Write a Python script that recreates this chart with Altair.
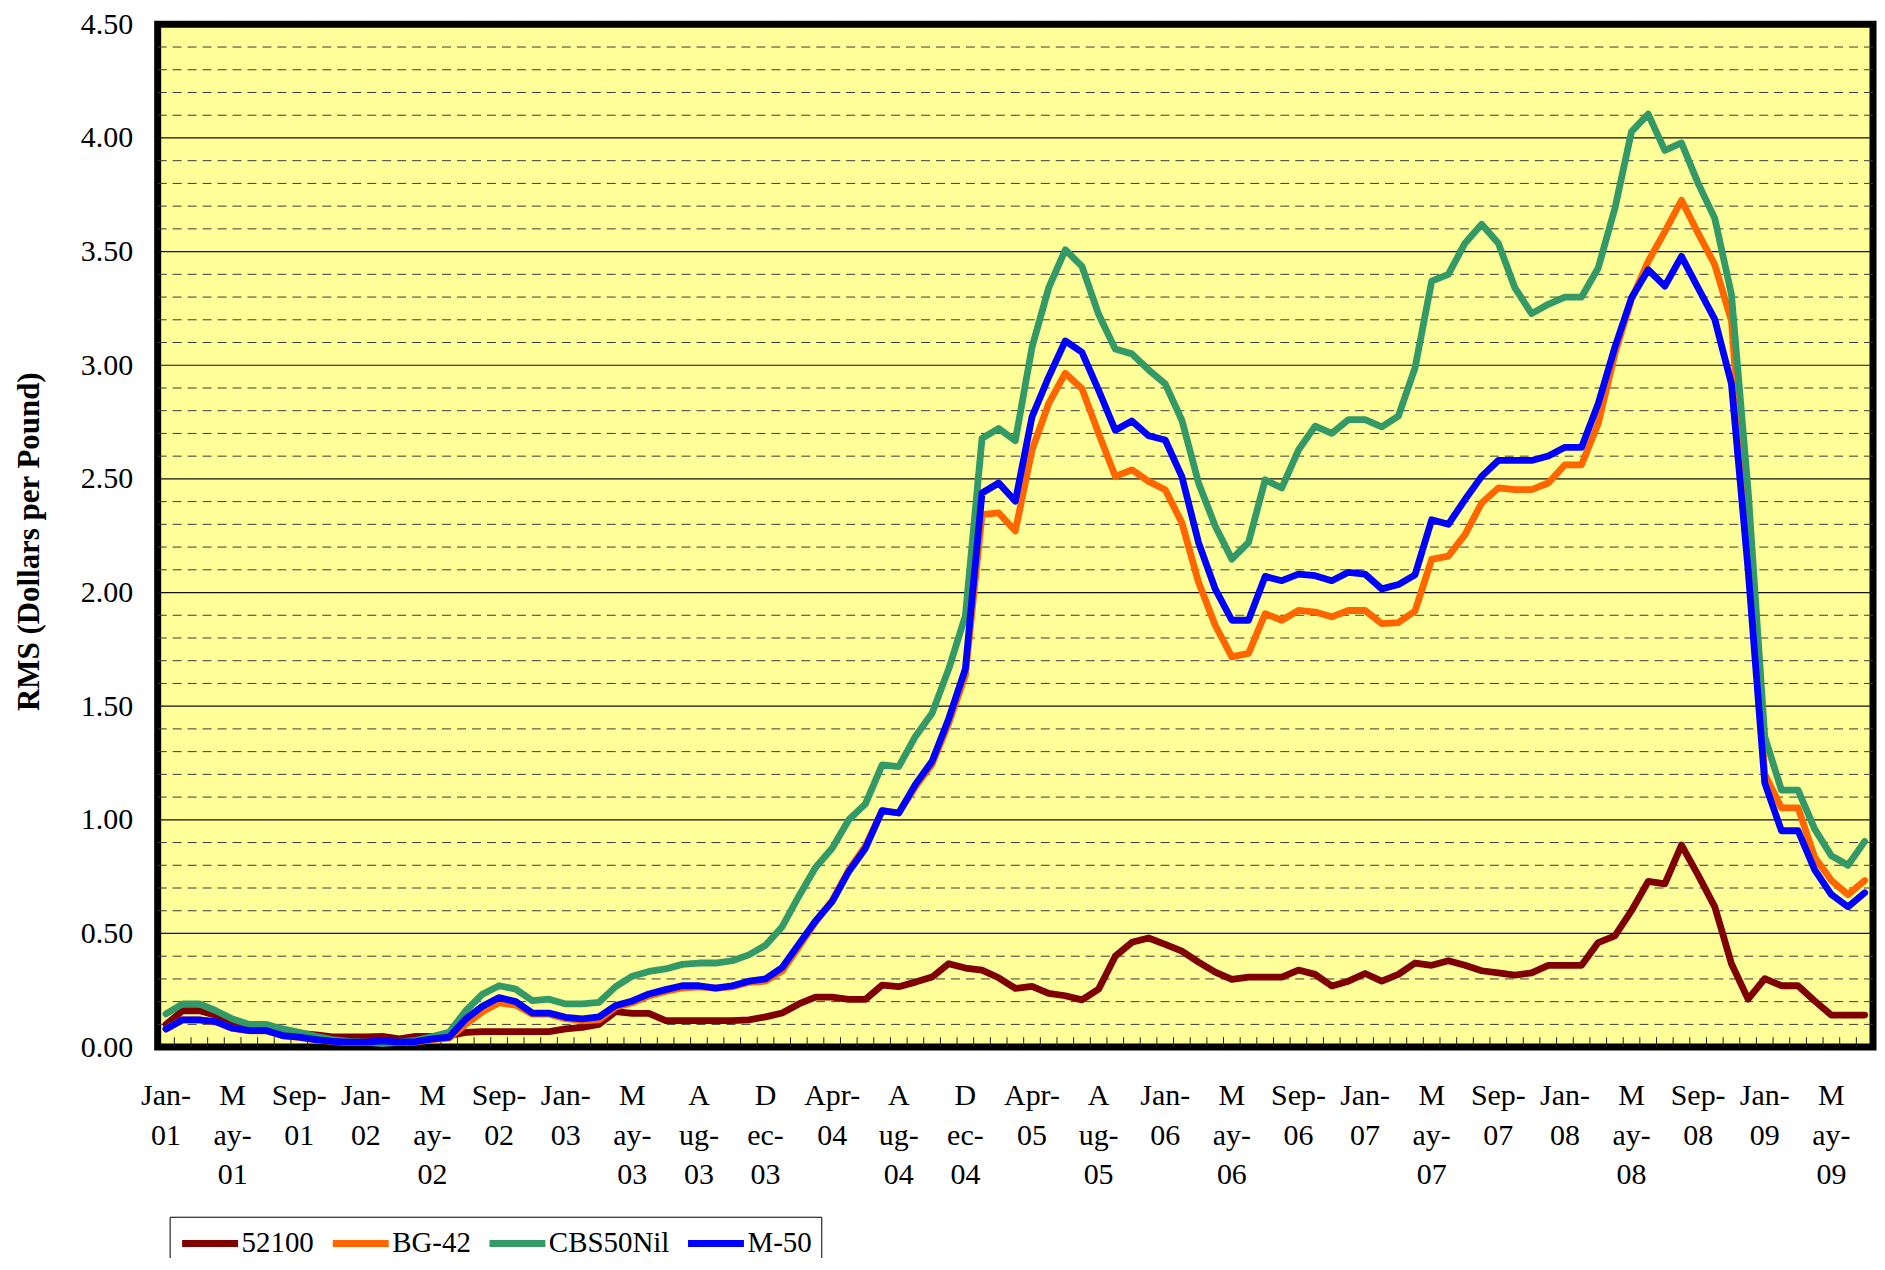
import json
import altair as alt
import pandas as pd

# ---- data (monthly categories, every 4th labelled) ----
tick_labels = ["Jan-01", "May-01", "Sep-01", "Jan-02", "May-02", "Sep-02", "Jan-03",
               "May-03", "Aug-03", "Dec-03", "Apr-04", "Aug-04", "Dec-04", "Apr-05",
               "Aug-05", "Jan-06", "May-06", "Sep-06", "Jan-07", "May-07", "Sep-07",
               "Jan-08", "May-08", "Sep-08", "Jan-09", "May-09"]

s52100 = [0.10, 0.16, 0.16, 0.14, 0.11, 0.09, 0.085, 0.07, 0.06, 0.054,
          0.045, 0.045, 0.045, 0.047, 0.036, 0.047, 0.047, 0.05, 0.065, 0.068,
          0.068, 0.068, 0.068, 0.068, 0.08, 0.087, 0.10, 0.156, 0.148, 0.148,
          0.117, 0.117, 0.117, 0.117, 0.117, 0.12, 0.133, 0.15, 0.19, 0.22,
          0.22, 0.21, 0.21, 0.273, 0.266, 0.286, 0.308, 0.367, 0.348, 0.339,
          0.305, 0.258, 0.267, 0.236, 0.226, 0.208, 0.255, 0.40, 0.461, 0.48,
          0.452, 0.422, 0.374, 0.33, 0.298, 0.308, 0.308, 0.308, 0.339, 0.32,
          0.269, 0.29, 0.324, 0.29, 0.32, 0.37, 0.36, 0.38, 0.36, 0.336,
          0.327, 0.317, 0.327, 0.36, 0.36, 0.36, 0.46, 0.489, 0.60, 0.729,
          0.718, 0.889, 0.757, 0.617, 0.367, 0.211, 0.301, 0.27, 0.27, 0.203,
          0.141, 0.141, 0.141]

bg42 = [0.08, 0.12, 0.12, 0.11, 0.082, 0.072, 0.072, 0.05, 0.043, 0.032,
        0.024, 0.02, 0.02, 0.026, 0.02, 0.022, 0.033, 0.04, 0.10, 0.155,
        0.195, 0.185, 0.145, 0.145, 0.125, 0.115, 0.12, 0.175, 0.195, 0.225,
        0.245, 0.26, 0.265, 0.26, 0.265, 0.285, 0.29, 0.335, 0.44, 0.55,
        0.645, 0.78, 0.885, 1.04, 1.03, 1.145, 1.245, 1.425, 1.635, 2.343,
        2.35, 2.271, 2.627, 2.831, 2.965, 2.897, 2.70, 2.511, 2.54, 2.489,
        2.452, 2.307, 2.045, 1.856, 1.717, 1.732, 1.907, 1.878, 1.921, 1.914,
        1.893, 1.921, 1.921, 1.863, 1.868, 1.919, 2.146, 2.16, 2.255, 2.394,
        2.46, 2.453, 2.453, 2.482, 2.562, 2.562, 2.744, 3.05, 3.29, 3.457,
        3.588, 3.726, 3.581, 3.442, 3.195, 2.20, 1.20, 1.053, 1.053, 0.835,
        0.733, 0.671, 0.733]

cbs50nil = [0.146, 0.19, 0.19, 0.16, 0.124, 0.10, 0.10, 0.08, 0.065, 0.048,
            0.033, 0.025, 0.022, 0.015, 0.022, 0.03, 0.047, 0.065, 0.16, 0.233,
            0.27, 0.255, 0.204, 0.211, 0.19, 0.19, 0.197, 0.266, 0.312, 0.333,
            0.344, 0.364, 0.37, 0.37, 0.38, 0.406, 0.448, 0.53, 0.664, 0.79,
            0.875, 1.0, 1.07, 1.242, 1.234, 1.367, 1.469, 1.664, 1.898, 2.678,
            2.722, 2.668, 3.079, 3.34, 3.508, 3.435, 3.224, 3.071, 3.05, 2.98,
            2.918, 2.758, 2.482, 2.293, 2.147, 2.22, 2.496, 2.46, 2.627, 2.732,
            2.70, 2.761, 2.761, 2.729, 2.776, 2.988, 3.37, 3.40, 3.537, 3.62,
            3.537, 3.34, 3.227, 3.268, 3.30, 3.30, 3.428, 3.69, 4.028, 4.105,
            3.945, 3.978, 3.80, 3.646, 3.311, 2.45, 1.365, 1.131, 1.131, 0.959,
            0.842, 0.80, 0.905]

m50 = [0.08, 0.12, 0.12, 0.112, 0.083, 0.073, 0.073, 0.051, 0.044, 0.033,
       0.025, 0.022, 0.022, 0.028, 0.022, 0.024, 0.036, 0.044, 0.124, 0.18,
       0.218, 0.2, 0.15, 0.15, 0.131, 0.124, 0.133, 0.183, 0.203, 0.234,
       0.253, 0.27, 0.27, 0.26, 0.27, 0.29, 0.30, 0.35, 0.453, 0.555,
       0.64, 0.773, 0.875, 1.04, 1.03, 1.156, 1.258, 1.445, 1.664, 2.438,
       2.482, 2.402, 2.773, 2.948, 3.107, 3.057, 2.89, 2.714, 2.755, 2.69,
       2.671, 2.51, 2.22, 2.016, 1.878, 1.878, 2.071, 2.052, 2.081, 2.074,
       2.052, 2.089, 2.081, 2.016, 2.035, 2.078, 2.32, 2.30, 2.409, 2.511,
       2.581, 2.581, 2.581, 2.601, 2.639, 2.639, 2.831, 3.079, 3.297, 3.42,
       3.348, 3.479, 3.34, 3.202, 2.918, 2.10, 1.162, 0.952, 0.952, 0.78,
       0.671, 0.617, 0.679]

series_names = ["52100", "BG-42", "CBS50Nil", "M-50"]
series_colors = ["#800000", "#FF6600", "#339966", "#0000FF"]
y_ticks = [0.0, 0.5, 1.0, 1.5, 2.0, 2.5, 3.0, 3.5, 4.0, 4.5]

# ---- tables ----
n = len(m50)
idx = list(range(n))
rows = []
for name, vals in zip(series_names, [s52100, bg42, cbs50nil, m50]):
    for i, v in zip(idx, vals):
        rows.append({"i": i, "series": name, "value": v})
df = pd.DataFrame(rows)

major = [v for v in y_ticks[1:-1]]
minor = [round(k / 10, 1) for k in range(1, 45) if k % 5 != 0]
df_major = pd.DataFrame({"value": major})
df_minor = pd.DataFrame({"value": minor})
df_ticks = pd.DataFrame({"i": idx[1:]})

W, H = 1719, 1025
FONT = "Liberation Serif"

wrapped = [[s[0], s[1:4], s[4:]] if s[:3] in ("May", "Aug", "Dec") else [s[:4], s[4:]]
           for s in tick_labels]
label_expr = json.dumps(wrapped) + "[round(datum.value / 4)]"

x_scale = alt.Scale(type="band", domain=idx, paddingInner=0, paddingOuter=0)
y_scale = alt.Scale(domain=[0, 4.5], nice=False, zero=True)

x_axis = alt.Axis(
    values=idx[::4],
    labelExpr=label_expr,
    labelFont=FONT,
    labelFontSize=30,
    labelLineHeight=39.5,
    labelPadding=34,
    labelAngle=0,
    labelAlign="center",
    labelBaseline="top",
    labelColor="black",
    labelOverlap=False,
    labelFlush=False,
    ticks=False,
    domain=False,
    grid=False,
    title=None,
    bandPosition=0.5,
)

y_axis = alt.Axis(
    values=y_ticks,
    format=".2f",
    labelFont=FONT,
    labelFontSize=30,
    labelColor="black",
    labelPadding=25,
    labelFlush=False,
    labelOverlap=False,
    ticks=False,
    domain=False,
    grid=False,
    title="RMS (Dollars per Pound)",
    titleFont=FONT,
    titleFontSize=31,
    titleFontWeight="bold",
    titleColor="black",
    titleAngle=270,
    titleX=-128,
    titleY=518,
    titleAlign="center",
    titleBaseline="middle",
)

minor_layer = alt.Chart(df_minor).mark_rule(
    color="#3a3a3a", strokeWidth=1, strokeDash=[9, 6]
).encode(y=alt.Y("value:Q", scale=y_scale, axis=y_axis))

major_layer = alt.Chart(df_major).mark_rule(
    color="#111111", strokeWidth=1.2
).encode(y=alt.Y("value:Q", scale=y_scale, axis=y_axis))

tick_layer = alt.Chart(df_ticks).mark_rule(color="#222222", strokeWidth=1).encode(
    x=alt.X("i:O", scale=x_scale, bandPosition=0, axis=x_axis),
    y=alt.value(H),
    y2=alt.value(H - 10),
)

lines = alt.Chart(df).mark_line(strokeWidth=6.8, strokeJoin="round", strokeCap="round").encode(
    x=alt.X("i:O", scale=x_scale, bandPosition=0.5, axis=x_axis),
    y=alt.Y("value:Q", scale=y_scale, axis=y_axis),
    color=alt.Color(
        "series:N",
        scale=alt.Scale(domain=series_names, range=series_colors),
        legend=alt.Legend(
            orient="none",
            legendX=12,
            legendY=1195,
            direction="horizontal",
            title=None,
            symbolType="M-1,0L3,0",
            symbolSize=784,
            symbolStrokeWidth=7,
            labelFont=FONT,
            labelFontSize=29,
            labelColor="black",
            labelOffset=28,
            columnPadding=4,
            padding=9,
            strokeColor="#000000",
            labelLimit=0,
        ),
    ),
)

chart = alt.layer(minor_layer, major_layer, tick_layer, lines).properties(
    width=W,
    height=H,
    autosize=alt.AutoSizeParams(type="none"),
    padding={"left": 150, "top": 15, "right": 4, "bottom": 210},
).configure_view(fill="#FFFF99", stroke="black", strokeWidth=7)

chart.save("out.html", embed_options={"renderer": "svg", "actions": False})
